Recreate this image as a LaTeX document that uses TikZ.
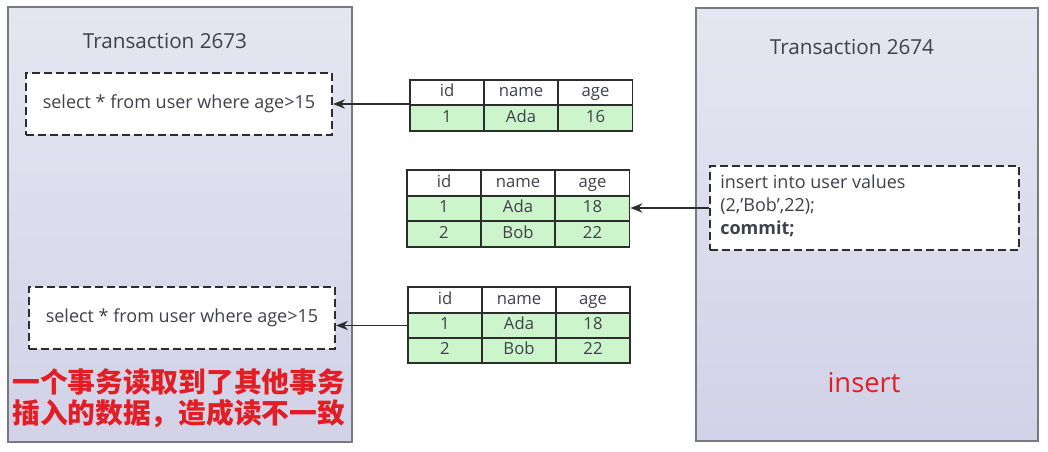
\documentclass[tikz,border=0pt]{standalone}
\usepackage{fontspec}
\setmainfont{Open Sans}
\newfontfamily\cjk{Noto Sans CJK SC}
\usetikzlibrary{arrows.meta}
\definecolor{boxtop}{RGB}{230,230,242}
\definecolor{boxbot}{RGB}{210,210,232}
\definecolor{boxline}{RGB}{120,120,130}
\definecolor{txt}{RGB}{64,64,76}
\definecolor{cellgreen}{RGB}{204,245,204}
\definecolor{dark}{RGB}{45,45,45}
\definecolor{redtxt}{RGB}{226,30,36}
\tikzset{
  trans/.style={draw=boxline, line width=1.2pt, top color=boxtop, bottom color=boxbot},
  title/.style={font=\fontsize{15.5}{18}\selectfont, text=txt},
  dbox/.style={draw=dark, fill=white, line width=1.5pt, dash pattern=on 6pt off 3pt, inner sep=0pt},
  seltext/.style={font=\fontsize{13.5}{16}\selectfont, text=txt},
  cell/.style={draw=dark, line width=1.4pt, minimum width=55.5pt, minimum height=19pt, inner sep=0pt,
    text height=8.5pt, text depth=2pt, font=\fontsize{12.5}{14}\selectfont, text=txt},
  hcell/.style={cell, fill=white},
  gcell/.style={cell, fill=cellgreen},
  arr/.style={draw=dark, line width=1.1pt, -{Stealth[length=9pt,width=7pt]}},
  redcn/.style={font=\cjk\bfseries\fontsize{20.8}{23}\selectfont, text=redtxt, align=left},
}
\begin{document}
\begin{tikzpicture}[x=0.75pt, y=-0.75pt]
\useasboundingbox (0,0) rectangle (1048,452);
% transaction boxes
\node[trans, minimum width=258pt, minimum height=326pt, inner sep=0pt] (tA) at (180,224.5) {};
\node[trans, minimum width=256.5pt, minimum height=324.75pt, inner sep=0pt] (tB) at (867,224.5) {};
\node[title] (tAt) at (165,41) {Transaction 2673};
\node[title] (tBt) at (852,47) {Transaction 2674};
% select boxes
\node[dbox, minimum width=229.5pt, minimum height=46.5pt] (sel1) at (179,104) {};
\node[seltext] (sel1t) at (sel1) {select * from user where age>15};
\node[dbox, minimum width=229.5pt, minimum height=46.5pt] (sel2) at (182,318) {};
\node[seltext] (sel2t) at (sel2) {select * from user where age>15};
% insert box
\node[dbox, minimum width=231.75pt, minimum height=63pt] (ins) at (864.5,208) {};
\node[anchor=north west, align=left, font=\fontsize{13.5}{17.25}\selectfont, text=txt, inner sep=0pt] (inst) at (720,175)
  {insert into user values\\(2,'Bob',22);\\\textbf{commit;}};
% table 1
\node[hcell] (t1h1) at (447,92.5) {id};
\node[hcell] (t1h2) at (521,92.5) {name};
\node[hcell] (t1h3) at (595.5,92.5) {age};
\node[gcell] (t1a1) at (447,118) {1};
\node[gcell] (t1a2) at (521,118) {Ada};
\node[gcell] (t1a3) at (595.5,118) {16};
% table 2
\node[hcell] (t2h1) at (444,183) {id};
\node[hcell] (t2h2) at (518,183) {name};
\node[hcell] (t2h3) at (592.5,183) {age};
\node[gcell] (t2a1) at (444,208.5) {1};
\node[gcell] (t2a2) at (518,208.5) {Ada};
\node[gcell] (t2a3) at (592.5,208.5) {18};
\node[gcell] (t2b1) at (444,234) {2};
\node[gcell] (t2b2) at (518,234) {Bob};
\node[gcell] (t2b3) at (592.5,234) {22};
% table 3
\node[hcell] (t3h1) at (445,300) {id};
\node[hcell] (t3h2) at (519,300) {name};
\node[hcell] (t3h3) at (593,300) {age};
\node[gcell] (t3a1) at (445,325.5) {1};
\node[gcell] (t3a2) at (519,325.5) {Ada};
\node[gcell] (t3a3) at (593,325.5) {18};
\node[gcell] (t3b1) at (445,350.5) {2};
\node[gcell] (t3b2) at (519,350.5) {Bob};
\node[gcell] (t3b3) at (593,350.5) {22};
% arrows
\draw[arr] (t1h1.west |- sel1.east) -- (sel1.east);
\draw[arr] (ins.west) -- (t2a3.east |- ins.west);
\draw[arr] (t3a1.west) -- (sel2.east |- t3a1.west);
% red texts
\node[redcn, anchor=west, inner sep=0pt] (note) at (12,398) {一个事务读取到了其他事务\\插入的数据，造成读不一致};
\node[font=\fontsize{20.5}{24}\selectfont, text=redtxt] (insred) at (864,383) {insert};
\end{tikzpicture}
\end{document}
